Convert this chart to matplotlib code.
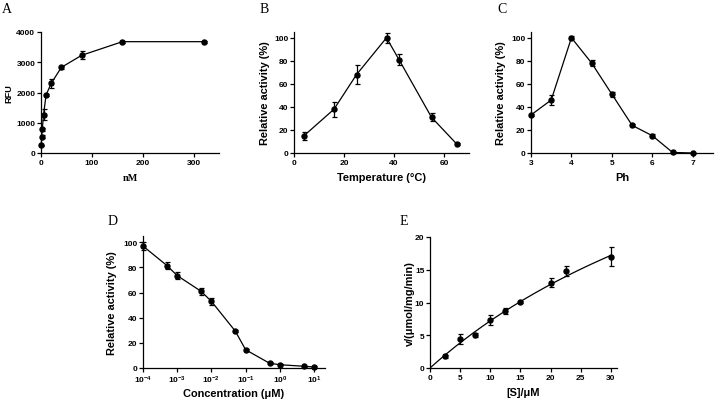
import numpy as np
import matplotlib
matplotlib.use("Agg")
import matplotlib.pyplot as plt

# ---- data ----
a_x = [0.625, 1.25, 2.5, 5, 10, 20, 40, 80, 160, 320]
a_y = [250, 540, 780, 1270, 1920, 2300, 2830, 3230, 3680, 3680]
a_err = [30, 40, 50, 170, 40, 140, 40, 130, 30, 30]

b_x = [4, 16, 25, 37, 42, 55, 65]
b_y = [15, 38, 68, 100, 81, 31, 8]
b_err = [3.5, 6.5, 8.5, 4.5, 4.5, 3.5, 0.8]

c_x = [3, 3.5, 4, 4.5, 5, 5.5, 6, 6.5, 7]
c_y = [33, 46, 100, 78, 51, 24, 15, 0.5, 0]
c_err = [1, 4.5, 1.5, 2.5, 2, 1, 1.5, 0.3, 0.3]

d_x = [1e-4, 5e-4, 1e-3, 5e-3, 1e-2, 5e-2, 1e-1, 5e-1, 1, 5, 10]
d_y = [97, 81.5, 73.5, 61, 53, 29.3, 14.5, 3.8, 2.6, 1.4, 0.8]
d_err = [3, 2.8, 2.8, 2.8, 2.8, 1, 1, 0.6, 0.5, 0.5, 0.5]

e_x = [2.5, 5, 7.5, 10, 12.5, 15, 20, 22.5, 30]
e_y = [1.8, 4.4, 5.1, 7.3, 8.7, 10.1, 13.0, 14.8, 17.0]
e_err = [0.2, 0.8, 0.3, 0.8, 0.5, 0.2, 0.7, 0.7, 1.4]
e_vmax = 56.3
e_km = 68.2

plt.rcParams['mathtext.fontset'] = 'custom'
plt.rcParams['mathtext.rm'] = 'Liberation Sans:bold'
plt.rcParams['mathtext.bf'] = 'Liberation Sans:bold'
plt.rcParams['mathtext.default'] = 'rm'

W, H = 715, 402
fig = plt.figure(figsize=(W / 100, H / 100), dpi=100)

sans = ['Liberation Sans', 'DejaVu Sans']
serif = ['Liberation Serif', 'DejaVu Serif']
TICK_FS = 6.0
LAB_FS = 7.9


def make_ax(left, right, top, bottom):
    return fig.add_axes([left / W, 1 - bottom / H, (right - left) / W, (bottom - top) / H])


def style(ax):
    for s in ['top', 'right']:
        ax.spines[s].set_visible(False)
    for s in ['left', 'bottom']:
        ax.spines[s].set_linewidth(0.9)
    ax.tick_params(direction='out', length=2.6, width=0.9, pad=1.5, labelsize=TICK_FS)
    for lab in ax.get_xticklabels() + ax.get_yticklabels():
        lab.set_fontweight('bold')
        lab.set_family(sans)


def plot_series(ax, x, y, err):
    ax.errorbar(x, y, yerr=err, color='black', lw=0.9, marker='o', ms=3.6,
                capsize=1.8, elinewidth=0.9, capthick=0.9, clip_on=False, zorder=3)


def set_labels(ax, xlabel, ylabel, xlab_y, ylab_x, left, right, xfam=sans, fs=LAB_FS, xfs=None):
    ax.set_xlabel(xlabel, fontsize=xfs or fs, fontweight='bold', family=xfam, va='center')
    ax.set_ylabel(ylabel, fontsize=fs, fontweight='bold', family=sans, va='center')
    ax.xaxis.set_label_coords((left + right) / 2 / W, 1 - xlab_y / H, transform=fig.transFigure)
    pos = ax.get_position()
    ax.yaxis.set_label_coords(ylab_x / W, pos.y0 + pos.height / 2, transform=fig.transFigure)


# Panel A
axA = make_ax(41, 219, 33, 154)
plot_series(axA, a_x, a_y, a_err)
axA.set_xlim(0, 350)
axA.set_ylim(0, 4000)
axA.set_xticks([0, 100, 200, 300])
axA.set_yticks([0, 1000, 2000, 3000, 4000])
style(axA)
set_labels(axA, 'nM', 'RFU', 179, 9, 41, 219, xfam=serif, fs=6.6, xfs=7.3)

# Panel B
axB = make_ax(294, 469, 33, 154)
plot_series(axB, b_x, b_y, b_err)
axB.set_xlim(0, 70)
axB.set_ylim(0, 105)
axB.set_xticks([0, 20, 40, 60])
axB.set_yticks([0, 20, 40, 60, 80, 100])
style(axB)
set_labels(axB, 'Temperature (°C)', 'Relative activity (%)', 178, 265, 294, 469)

# Panel C
axC = make_ax(531, 713, 33, 154)
plot_series(axC, c_x, c_y, c_err)
axC.set_xlim(3, 7.5)
axC.set_ylim(0, 105)
axC.set_xticks([3, 4, 5, 6, 7])
axC.set_yticks([0, 20, 40, 60, 80, 100])
style(axC)
set_labels(axC, 'Ph', 'Relative activity (%)', 178, 501, 531, 713)

# Panel D
axD = make_ax(143, 325, 237, 369)
plot_series(axD, d_x, d_y, d_err)
axD.set_xscale('log')
axD.set_xlim(1e-4, 10 ** 1.32)
axD.set_ylim(0, 105)
axD.set_xticks([1e-4, 1e-3, 1e-2, 1e-1, 1, 10])
axD.xaxis.set_minor_locator(matplotlib.ticker.NullLocator())
axD.set_yticks([0, 20, 40, 60, 80, 100])
style(axD)
set_labels(axD, 'Concentration (μM)', 'Relative activity (%)', 394, 112, 143, 325)

# Panel E
axE = make_ax(430, 617, 238, 369)
axE.errorbar(e_x, e_y, yerr=e_err, color='black', lw=0, marker='o', ms=3.6,
             capsize=1.8, elinewidth=0.9, capthick=0.9, clip_on=False, zorder=3)
xs = np.linspace(0, 30, 200)
axE.plot(xs, e_vmax * xs / (e_km + xs), color='black', lw=0.9)
axE.set_xlim(0, 31)
axE.set_ylim(0, 20)
axE.set_xticks([0, 5, 10, 15, 20, 25, 30])
axE.set_yticks([0, 5, 10, 15, 20])
style(axE)
set_labels(axE, '[S]/μM', 'v/(μmol/mg/min)', 393, 410, 430, 617)

# panel letters
for letter, px, py in [('A', 2, 13), ('B', 260, 13), ('C', 497, 13), ('D', 108, 225), ('E', 400, 225)]:
    fig.text(px / W, 1 - py / H, letter, fontsize=10, family=serif, ha='left', va='baseline')

fig.savefig('out.png', dpi=100)
